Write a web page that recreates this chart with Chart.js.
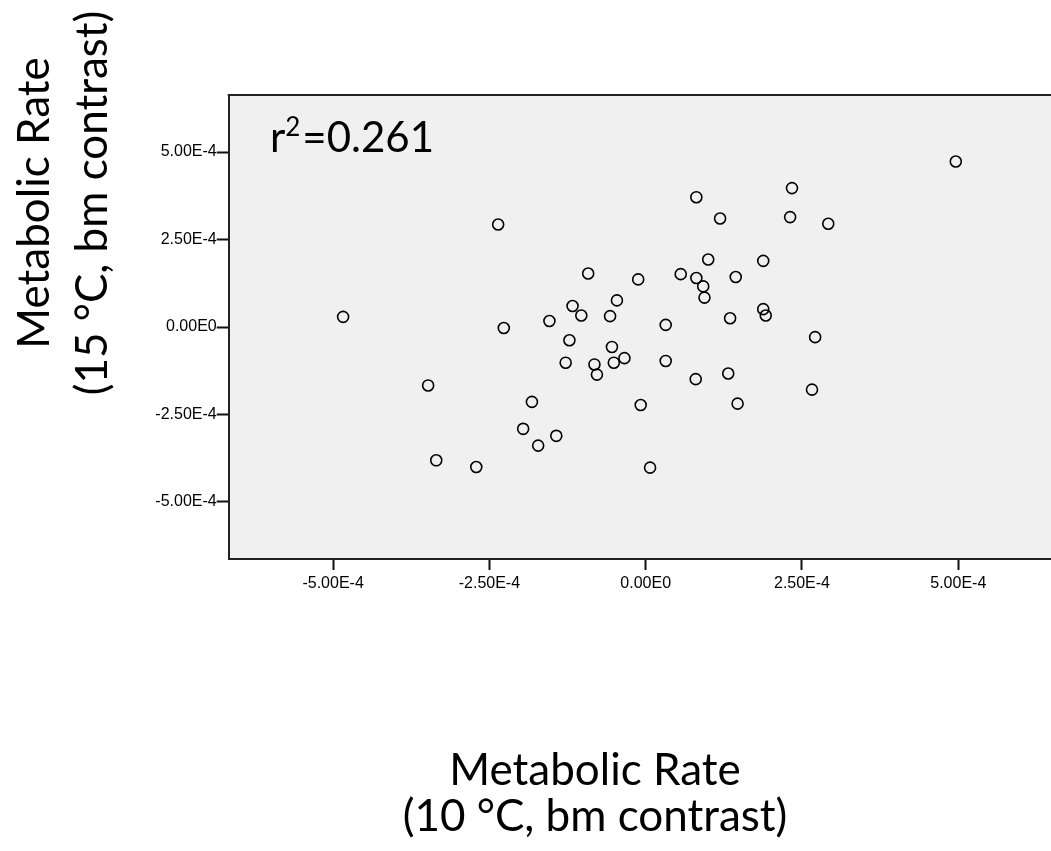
<!DOCTYPE html>
<html><head><meta charset="utf-8">
<script src="https://cdn.jsdelivr.net/npm/chart.js@4/dist/chart.umd.min.js"></script>
<style>
html,body{margin:0;padding:0;overflow:hidden;background:#fff;width:1051px;height:851px}
#wrap{position:absolute;left:0;top:0;width:1100px;height:851px}
</style>
</head><body>
<div id="wrap"><canvas id="c" width="1100" height="851" style="width:1100px;height:851px"></canvas></div>
<script>
// Data (metabolic rate contrasts)
const xValues = [-4.84e-4,-3.48e-4,-3.35e-4,-2.71e-4,-2.36e-4,0.81e-4,2.34e-4,2.31e-4,1.19e-4,2.92e-4,
  1.00e-4,1.88e-4,-0.92e-4,-0.12e-4,0.56e-4,0.81e-4,1.44e-4,0.92e-4,0.94e-4,-0.46e-4,
  -1.17e-4,-1.03e-4,-0.57e-4,-1.54e-4,-2.27e-4,0.32e-4,1.35e-4,1.88e-4,1.92e-4,2.71e-4,
  -1.22e-4,4.96e-4,-0.54e-4,-1.28e-4,-0.82e-4,-0.78e-4,-0.51e-4,-0.34e-4,0.32e-4,0.80e-4,
  1.32e-4,2.66e-4,-1.82e-4,-0.08e-4,1.47e-4,-1.96e-4,-1.72e-4,-1.43e-4,0.07e-4];
const yValues = [0.29e-4,-1.67e-4,-3.81e-4,-4.00e-4,2.93e-4,3.71e-4,3.97e-4,3.14e-4,3.10e-4,2.95e-4,
  1.93e-4,1.89e-4,1.53e-4,1.36e-4,1.51e-4,1.40e-4,1.43e-4,1.16e-4,0.84e-4,0.76e-4,
  0.60e-4,0.33e-4,0.31e-4,0.17e-4,-0.03e-4,0.06e-4,0.25e-4,0.51e-4,0.33e-4,-0.29e-4,
  -0.38e-4,4.73e-4,-0.57e-4,-1.02e-4,-1.07e-4,-1.36e-4,-1.02e-4,-0.89e-4,-0.97e-4,-1.49e-4,
  -1.33e-4,-1.79e-4,-2.14e-4,-2.23e-4,-2.19e-4,-2.91e-4,-3.39e-4,-3.11e-4,-4.02e-4];
const xTickValues = [-5e-4,-2.5e-4,0,2.5e-4,5e-4];
const xTickLabels = ['-5.00E-4','-2.50E-4','0.00E0','2.50E-4','5.00E-4'];
const yTickValues = [-5e-4,-2.5e-4,0,2.5e-4,5e-4];
const yTickLabels = ['-5.00E-4','-2.50E-4','0.00E0','2.50E-4','5.00E-4'];
const xTitleLines = ['Metabolic Rate','(10 \u00B0C, bm contrast)'];
const yTitleLines = ['Metabolic Rate','(15 \u00B0C, bm contrast)'];
const fitLabel = {base:'r', sup:'2', rest:'=0.261'};

const points = xValues.map((x,i)=>({x:x, y:yValues[i]}));

const frame = {
  id:'frame',
  beforeDraw(chart){
    const {ctx, chartArea:a} = chart;
    ctx.save();
    ctx.fillStyle = '#f0f0f0';
    ctx.fillRect(a.left, a.top, a.right-a.left, a.bottom-a.top);
    ctx.restore();
  },
  afterDraw(chart){
    const {ctx, chartArea:a} = chart;
    ctx.save();
    ctx.strokeStyle = '#222';
    ctx.lineWidth = 2;
    ctx.beginPath();
    ctx.moveTo(a.left-1, a.top);
    ctx.lineTo(a.right, a.top);
    ctx.stroke();
    // annotation
    ctx.fillStyle = '#000';
    ctx.textBaseline = 'alphabetic';
    ctx.textAlign = 'left';
    const fx = 270, fy = 152;
    ctx.font = '42px Lato';
    ctx.fillText(fitLabel.base, fx, fy);
    let w = ctx.measureText(fitLabel.base).width;
    ctx.font = '26px Lato';
    ctx.fillText(fitLabel.sup, fx+w, fy-16);
    w += ctx.measureText(fitLabel.sup).width + 2;
    ctx.font = '42px Lato';
    ctx.fillText(fitLabel.rest, fx+w, fy);
    // axis titles
    ctx.font = '44px Lato';
    ctx.textAlign = 'center';
    ctx.fillText(xTitleLines[0], 595, 785);
    ctx.fillText(xTitleLines[1], 595, 831);
    ctx.save(); ctx.translate(49, 203); ctx.rotate(-Math.PI/2); ctx.fillText(yTitleLines[0], 0, 0); ctx.restore();
    ctx.save(); ctx.translate(107, 203); ctx.rotate(-Math.PI/2); ctx.fillText(yTitleLines[1], 0, 0); ctx.restore();
    ctx.restore();
  }
};

new Chart(document.getElementById('c'), {
  type:'scatter',
  data:{datasets:[{
    data: points,
    pointStyle:'circle',
    pointRadius:5.5,
    pointHoverRadius:5.5,
    pointBorderWidth:1.6,
    borderColor:'#000',
    backgroundColor:'rgba(0,0,0,0)'
  }]},
  options:{
    responsive:false,
    animation:false,
    devicePixelRatio:1,
    layout:{padding:{left:0, top:95, right:37.3, bottom:252}},
    plugins:{legend:{display:false}, tooltip:{enabled:false}},
    scales:{
      x:{
        type:'linear', min:-6.67e-4, max:6.67e-4,
        afterBuildTicks(s){ s.ticks = xTickValues.map(v=>({value:v})); },
        afterFit(s){ s.height = 40; },
        ticks:{ callback:(v,i)=>xTickLabels[i], color:'#000', padding:4, maxRotation:0, autoSkip:false,
          font:{family:'"Liberation Sans", Arial', size:16} },
        grid:{display:true, drawOnChartArea:false, drawTicks:true, tickLength:11, tickColor:'#111', tickWidth:2},
        border:{display:true, color:'#222', width:2}
      },
      y:{
        type:'linear', min:-6.63e-4, max:6.63e-4,
        afterBuildTicks(s){ s.ticks = yTickValues.map(v=>({value:v})); },
        afterFit(s){ s.width = 228.7; },
        ticks:{ callback:(v,i)=>yTickLabels[i], color:'#000', padding:0, autoSkip:false,
          font:{family:'"Liberation Sans", Arial', size:16} },
        grid:{display:true, drawOnChartArea:false, drawTicks:true, tickLength:12, tickColor:'#111', tickWidth:2},
        border:{display:true, color:'#222', width:2}
      }
    }
  },
  plugins:[frame]
});
</script>
</body></html>
